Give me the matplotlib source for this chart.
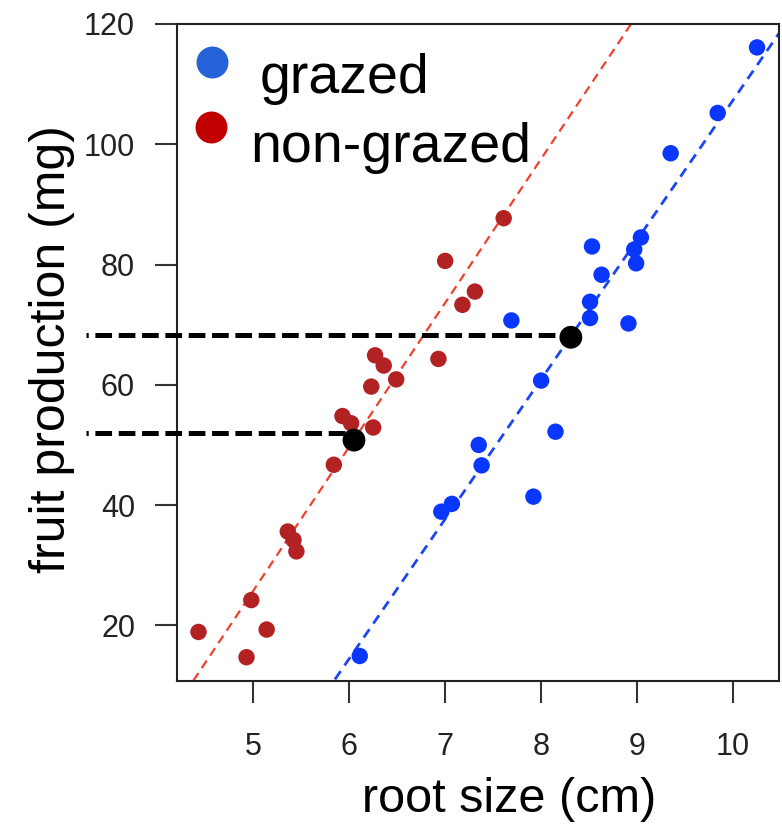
import matplotlib
matplotlib.use("Agg")
import matplotlib.pyplot as plt
import numpy as np

plt.rcParams['font.family'] = ['Liberation Sans', 'DejaVu Sans']
plt.rcParams['lines.scale_dashes'] = False

# ---- data ----
grazed_x = [10.25, 9.84, 9.35, 9.04, 8.97, 8.99, 8.53, 8.63, 8.51, 8.51, 8.91, 7.69,
            8.00, 8.15, 7.35, 7.38, 7.92, 6.96, 7.07, 6.11]
grazed_y = [116.1, 105.2, 98.5, 84.5, 82.5, 80.2, 83.0, 78.3, 73.8, 71.1, 70.2, 70.7,
            60.7, 52.2, 50.0, 46.6, 41.4, 38.9, 40.2, 14.9]
nongrazed_x = [7.61, 7.00, 7.31, 7.18, 6.93, 6.27, 6.36, 6.49, 6.23, 5.93, 6.02, 6.25,
               5.84, 5.36, 5.42, 5.45, 4.98, 4.43, 5.14, 4.93]
nongrazed_y = [87.7, 80.6, 75.5, 73.3, 64.3, 64.9, 63.2, 60.9, 59.7, 54.8, 53.6, 52.9,
               46.7, 35.6, 34.2, 32.3, 24.2, 18.9, 19.3, 14.7]
# fitted lines (slope, intercept)
fit_grazed = [23.22, -124.87]
fit_nongrazed = [23.94, -93.96]
# highlighted points and guide lines
highlight_x = [8.31, 6.05]
highlight_y = [67.9, 50.8]
guide_y = [68.3, 52.0]
guide_start = 3.26
legend_labels = ['grazed', 'non-grazed']
xticks = [5, 6, 7, 8, 9, 10]
yticks = [20, 40, 60, 80, 100, 120]
xlim = (4.203, 10.48)
ylim = (10.8, 120.0)

fig = plt.figure(figsize=(7.82, 8.32), dpi=100)
ax = fig.add_axes([0.2260, 0.1819, 0.7703, 0.7893])
ax.set_xlim(*xlim)
ax.set_ylim(*ylim)

xs = np.array(xlim)
ax.plot(xs, fit_nongrazed[0] * xs + fit_nongrazed[1], color='#f0402e', lw=1.6,
        ls=(0, (6.5, 4.3)), zorder=2)
ax.plot(xs, fit_grazed[0] * xs + fit_grazed[1], color='#1e46f0', lw=2.0,
        ls=(0, (7.2, 5.0)), zorder=2)

ax.scatter(nongrazed_x, nongrazed_y, s=140, color='#b22222', edgecolors='none', zorder=3)
ax.scatter(grazed_x, grazed_y, s=140, color='#0a37ff', edgecolors='none', zorder=3)

for gy, hx in zip(guide_y, highlight_x):
    ax.plot([guide_start, hx], [gy, gy], color='black', lw=3.6,
            ls=(10.4, (12.0, 4.8)), clip_on=False, zorder=4, solid_capstyle='butt',
            dash_capstyle='butt')
ax.scatter(highlight_x, highlight_y, s=270, color='black', edgecolors='none', zorder=5)

# legend (manual)
leg_colors = ['#2462d8', '#c00000']
leg_dot = [(0.0588, 0.9426), (0.0569, 0.8427)]
leg_txt = [(0.1372, 0.8954), (0.1215, 0.7903)]
for lab, c, (dx, dy), (tx, ty) in zip(legend_labels, leg_colors, leg_dot, leg_txt):
    ax.plot([dx], [dy], 'o', ms=23, color=c, mec='none', transform=ax.transAxes, zorder=6)
    ax.text(tx, ty, lab, transform=ax.transAxes, fontsize=40, ha='left', va='baseline',
            zorder=6)

ax.set_xticks(xticks)
ax.set_yticks(yticks)
ax.set_xticklabels([str(t) for t in xticks])
ax.set_yticklabels([str(t) for t in yticks])
ax.tick_params(axis='both', direction='out', length=16, width=1.5, color='#333333',
               labelsize=22, labelcolor='#222222')
ax.tick_params(axis='x', pad=21)
ax.tick_params(axis='y', pad=14)
for sp in ax.spines.values():
    sp.set_linewidth(1.5)
    sp.set_color('#222222')

ax.set_xlabel('root size (cm)', fontsize=35)
ax.set_ylabel('fruit production (mg)', fontsize=36)
ax.xaxis.set_label_coords(0.5525, -0.147)
ax.yaxis.set_label_coords(-0.1686, 0.505)

fig.savefig('out.png', dpi=100)
